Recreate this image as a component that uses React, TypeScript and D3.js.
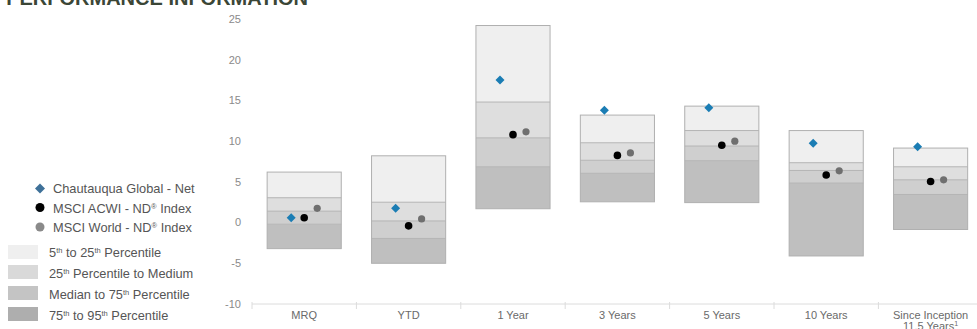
import React from "react";
import * as d3 from "d3";

const categories = ["MRQ", "YTD", "1 Year", "3 Years", "5 Years", "10 Years", "Since Inception"];
// percentile boundaries: 5th, 25th, median, 75th, 95th
const p5 = [6.2, 8.2, 24.2, 13.2, 14.3, 11.3, 9.15];
const p25 = [3.05, 2.5, 14.8, 9.8, 11.3, 7.35, 6.85];
const p50 = [1.4, 0.2, 10.4, 7.65, 9.4, 6.4, 5.25];
const p75 = [-0.2, -1.95, 6.85, 6.05, 7.6, 4.85, 3.45];
const p95 = [-3.2, -5.0, 1.7, 2.55, 2.45, -4.1, -0.85];
const chautauqua = [0.6, 1.75, 17.5, 13.8, 14.1, 9.75, 9.3];
const acwi = [0.6, -0.4, 10.8, 8.25, 9.5, 5.85, 5.05];
const world = [1.75, 0.45, 11.15, 8.55, 10.0, 6.35, 5.25];
const yTicks = [25, 20, 15, 10, 5, 0, -5, -10];

const bandFills = ["#efefef", "#dedede", "#cfcfcf", "#bfbfbf"];
const legendFills = ["#efefef", "#d9d9d9", "#c4c4c4", "#aeaeae"];

export default function App() {
  const W = 977, H = 329;
  const x = d3.scaleBand<string>().domain(categories).range([252, 252 + 104.4 * 7]).paddingInner(0.29).paddingOuter(0.145);
  const y = d3.scaleLinear().domain([-10, 25]).range([304, 19]);
  const bw = x.bandwidth();
  const step = x.step();
  const font = "Arial, 'Liberation Sans', sans-serif";
  const lf = 12.8;

  const sup = (t: string) => <tspan dy={-4} fontSize={7.5}>{t}</tspan>;
  const down = (t: string) => <tspan dy={4}>{t}</tspan>;

  return (
    <div style={{ position: "absolute", left: 0, top: 0 }}>
      <svg width={W} height={H} style={{ display: "block", fontFamily: font }}>
        <rect width={W} height={H} fill="#fff" />
        <text x={308} y={5} textAnchor="end" fontSize={20} fontWeight="bold" fill="#3b4636">PERFORMANCE INFORMATION</text>

        {/* y tick labels */}
        {yTicks.map((t) => (
          <text key={t} x={241} y={y(t)} dy="0.35em" textAnchor="end" fontSize={11} fill="#8a8a8a">{t}</text>
        ))}

        {/* axis line */}
        <line x1={252} x2={W} y1={y(-10)} y2={y(-10)} stroke="#dcdcdc" strokeWidth={1} />
        {d3.range(8).map((i) => (
          <line key={i} x1={252 + i * step} x2={252 + i * step} y1={y(-10) - 2} y2={y(-10) + 5} stroke="#dcdcdc" />
        ))}

        {/* boxes */}
        {categories.map((c, i) => {
          const x0 = x(c)!;
          const bounds = [p5[i], p25[i], p50[i], p75[i], p95[i]];
          return (
            <g key={c}>
              {bandFills.map((f, j) => (
                <rect key={j} x={x0} y={y(bounds[j])} width={bw} height={y(bounds[j + 1]) - y(bounds[j])} fill={f} />
              ))}
              {[1, 2, 3].map((j) => (
                <line key={j} x1={x0} x2={x0 + bw} y1={y(bounds[j])} y2={y(bounds[j])} stroke="#b4b4b4" strokeWidth={1} />
              ))}
              <rect x={x0} y={y(bounds[0])} width={bw} height={y(bounds[4]) - y(bounds[0])} fill="none" stroke="#b0b0b0" strokeWidth={1} />
            </g>
          );
        })}

        {/* points */}
        {categories.map((c, i) => {
          const cx = x(c)! + bw / 2;
          const d = 4.5;
          const dx = cx - 13, dy = y(chautauqua[i]);
          return (
            <g key={c}>
              <path d={`M${dx},${dy - d} L${dx + d},${dy} L${dx},${dy + d} L${dx - d},${dy} Z`} fill="#1b7db4" />
              <circle cx={cx} cy={y(acwi[i])} r={3.8} fill="#000" />
              <circle cx={cx + 13} cy={y(world[i])} r={3.6} fill="#6f6f6f" />
            </g>
          );
        })}

        {/* category labels */}
        {categories.map((c) => (
          <text key={c} x={x(c)! + bw / 2} y={318.5} textAnchor="middle" fontSize={11} fill="#6a6a6a">{c}</text>
        ))}
        <text x={x("Since Inception")! + bw / 2} y={330} textAnchor="middle" fontSize={11} fill="#6a6a6a">11.5 Years<tspan dy={-4} fontSize={7}>1</tspan></text>

        {/* legend: series */}
        <path d="M40,183.5 L45,188.5 L40,193.5 L35,188.5 Z" fill="#3f7199" />
        <circle cx={40} cy={207.5} r={4.5} fill="#000" />
        <circle cx={40} cy={227} r={4.5} fill="#8a8a8a" />
        <text x={53} y={192.5} fontSize={lf} fill="#555">Chautauqua Global - Net</text>
        <text x={53} y={212.5} fontSize={lf} fill="#555">MSCI ACWI  - ND{sup("®")}{down(" Index")}</text>
        <text x={53} y={232} fontSize={lf} fill="#555">MSCI World - ND{sup("®")}{down(" Index")}</text>

        {/* legend: bands */}
        {legendFills.map((f, j) => (
          <rect key={j} x={8} y={[245, 265, 286, 307][j]} width={30} height={14} fill={f} />
        ))}
        <text x={49} y={256.5} fontSize={lf} fill="#555">5{sup("th")}<tspan dy={4}> to 25</tspan>{sup("th")}<tspan dy={4}> Percentile</tspan></text>
        <text x={49} y={277.5} fontSize={lf} fill="#555">25{sup("th")}<tspan dy={4}> Percentile to Medium</tspan></text>
        <text x={49} y={298.5} fontSize={lf} fill="#555">Median to 75{sup("th")}<tspan dy={4}> Percentile</tspan></text>
        <text x={49} y={319.5} fontSize={lf} fill="#555">75{sup("th")}<tspan dy={4}> to 95</tspan>{sup("th")}<tspan dy={4}> Percentile</tspan></text>
      </svg>
    </div>
  );
}
